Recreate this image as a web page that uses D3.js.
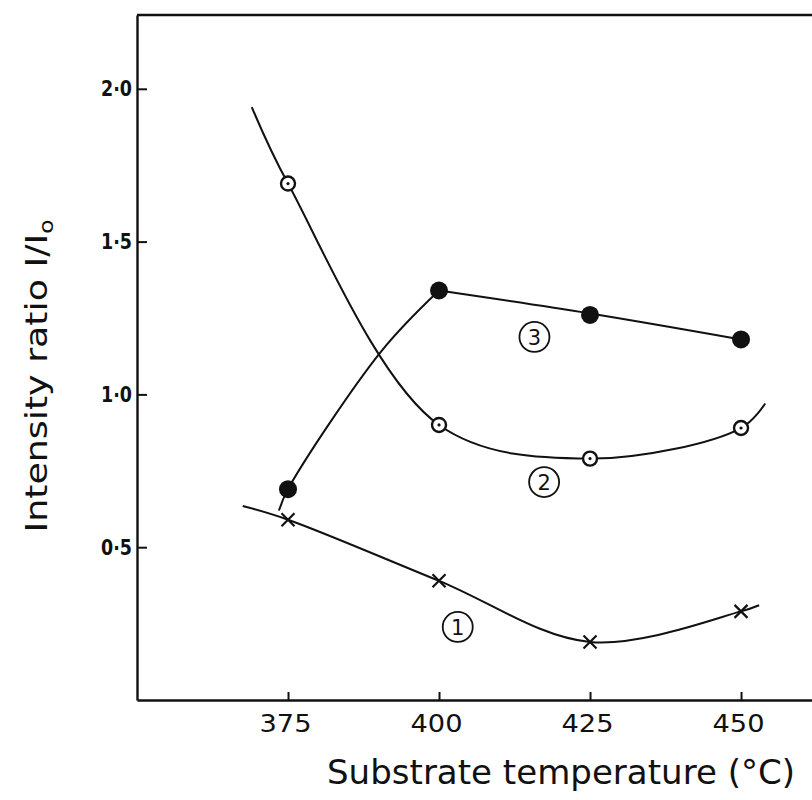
<!DOCTYPE html>
<html>
<head>
<meta charset="utf-8">
<script src="https://cdn.jsdelivr.net/npm/d3@7/dist/d3.min.js"></script>
<style>
  html, body { margin: 0; padding: 0; background: #fff; }
  svg { display: block; }
  text { font-family: "DejaVu Sans", sans-serif; fill: #111; }
</style>
</head>
<body>
<svg id="chart" width="812" height="800"></svg>
<script>
// ---- data ----
const temps = [375, 400, 425, 450];
const xTicks = [375, 400, 425, 450];
const yTicks = [0.5, 1.0, 1.5, 2.0];

// curve 1 : crosses
const series1 = [0.59, 0.39, 0.19, 0.29];
// curve 2 : open circles with centre dot
const series2 = [1.69, 0.90, 0.79, 0.89];
// curve 3 : filled circles
const series3 = [0.69, 1.34, 1.26, 1.18];

// hand-drawn fitted curves (knots incl. the line ends beyond the data)
const curve1X = [367.5, 375, 400, 425, 450, 453];
const curve1Y = [0.635, 0.59, 0.39, 0.19, 0.29, 0.31];
const curve2X = [369, 375, 400, 425, 450, 454];
const curve2Y = [1.94, 1.69, 0.90, 0.79, 0.89, 0.97];
const curve3X = [373.5, 375, 390.4, 400, 425, 450];
const curve3Y = [0.62, 0.69, 1.14, 1.34, 1.265, 1.18];
const curve3Corner = 400;   // curve 3 bends sharply at this point

// circled curve numbers
const labelText = ["1", "2", "3"];
const labelX = [403.1, 417.4, 415.8];
const labelY = [0.239, 0.713, 1.188];

const xTitle = "Substrate temperature (°C)";
const yTitleMain = "Intensity ratio I/I";
const yTitleSub = "o";

// ---- drawing ----
(function () {
const svg = d3.select("#chart");
const mLeft = 137, mTop = 15, mBottom = 700, mRight = 812;

const x = d3.scaleLinear().domain([350, 461.75]).range([mLeft, mRight]);
const y = d3.scaleLinear().domain([0, 2.2415]).range([mBottom, mTop]);

const ink = "#111";

// frame: top border
svg.append("line")
  .attr("x1", mLeft).attr("x2", mRight)
  .attr("y1", mTop).attr("y2", mTop)
  .attr("stroke", ink).attr("stroke-width", 2.4);

// x axis
const xAxis = d3.axisBottom(x)
  .tickValues(xTicks)
  .tickSizeInner(-8).tickSizeOuter(0)
  .tickPadding(14)
  .tickFormat(d3.format("d"));
const gx = svg.append("g").attr("transform", `translate(0,${mBottom})`).call(xAxis);
gx.select(".domain").attr("stroke", ink).attr("stroke-width", 2.4);
gx.selectAll(".tick line").attr("stroke", ink).attr("stroke-width", 2);
gx.selectAll(".tick text")
  .attr("font-family", "DejaVu Sans")
  .attr("font-size", 25)
  .attr("fill", ink)
  .attr("dx", -3)
  .attr("textLength", 52)
  .attr("lengthAdjust", "spacingAndGlyphs");

// y axis
const yAxis = d3.axisLeft(y)
  .tickValues(yTicks)
  .tickSizeInner(-10).tickSizeOuter(0)
  .tickPadding(5)
  .tickFormat(d => d3.format(".1f")(d).replace(".", "·"));
const gy = svg.append("g").attr("transform", `translate(${mLeft},0)`).call(yAxis);
gy.select(".domain").attr("stroke", ink).attr("stroke-width", 2.4);
gy.selectAll(".tick line").attr("stroke", ink).attr("stroke-width", 2);
gy.selectAll(".tick text")
  .attr("font-family", "DejaVu Sans")
  .attr("font-size", 22)
  .attr("font-weight", "bold")
  .attr("fill", ink)
  .attr("textLength", 31)
  .attr("lengthAdjust", "spacingAndGlyphs");

// curves
const lineSmooth = d3.line()
  .x(d => x(d[0])).y(d => y(d[1]))
  .curve(d3.curveCatmullRom.alpha(0.5));

const c3 = d3.zip(curve3X, curve3Y);
const pieces = [
  d3.zip(curve1X, curve1Y),
  d3.zip(curve2X, curve2Y),
  c3.filter(d => d[0] <= curve3Corner),
  c3.filter(d => d[0] >= curve3Corner)
];
pieces.forEach(pts => {
  svg.append("path")
    .datum(pts)
    .attr("d", lineSmooth)
    .attr("fill", "none")
    .attr("stroke", ink)
    .attr("stroke-width", 2)
    .attr("stroke-linejoin", "round");
});

// markers: crosses
const s = 6.5;
svg.append("g").selectAll("path")
  .data(d3.zip(temps, series1))
  .join("path")
  .attr("d", d => {
    const px = x(d[0]), py = y(d[1]);
    return `M${px - s},${py - s}L${px + s},${py + s}M${px - s},${py + s}L${px + s},${py - s}`;
  })
  .attr("stroke", ink).attr("stroke-width", 2.2).attr("fill", "none");

// markers: open circles with centre dot
const g2 = svg.append("g").selectAll("g")
  .data(d3.zip(temps, series2))
  .join("g")
  .attr("transform", d => `translate(${x(d[0])},${y(d[1])})`);
g2.append("circle").attr("r", 7).attr("fill", "#fff").attr("stroke", ink).attr("stroke-width", 2.4);
g2.append("circle").attr("r", 1.6).attr("fill", ink);

// markers: filled circles
svg.append("g").selectAll("circle")
  .data(d3.zip(temps, series3))
  .join("circle")
  .attr("cx", d => x(d[0])).attr("cy", d => y(d[1]))
  .attr("r", 9).attr("fill", ink);

// circled curve numbers
const lg = svg.append("g").selectAll("g")
  .data(d3.zip(labelText, labelX, labelY))
  .join("g")
  .attr("transform", d => `translate(${x(d[1])},${y(d[2])})`);
lg.append("ellipse").attr("rx", 15).attr("ry", 15)
  .attr("fill", "none").attr("stroke", ink).attr("stroke-width", 1.8);
lg.append("text")
  .attr("text-anchor", "middle").attr("dy", "0.36em")
  .attr("font-size", 21).attr("fill", ink)
  .text(d => d[0]);

// x title
svg.append("text")
  .attr("x", 561).attr("y", 784)
  .attr("text-anchor", "middle")
  .attr("font-family", "'Open Sans', 'DejaVu Sans', sans-serif")
  .attr("font-weight", 400)
  .attr("font-size", 33)
  .attr("textLength", 468)
  .attr("lengthAdjust", "spacingAndGlyphs")
  .text(xTitle);

// y title
const yt = svg.append("text")
  .attr("transform", "translate(47,376) rotate(-90)")
  .attr("text-anchor", "middle")
  .attr("font-family", "'Open Sans', 'DejaVu Sans', sans-serif")
  .attr("font-weight", 400)
  .attr("font-size", 31)
  .attr("textLength", 313)
  .attr("lengthAdjust", "spacingAndGlyphs");
yt.append("tspan").text(yTitleMain);
yt.append("tspan").attr("font-size", 20).attr("dy", 6).text(yTitleSub);
})();
</script>
</body>
</html>
